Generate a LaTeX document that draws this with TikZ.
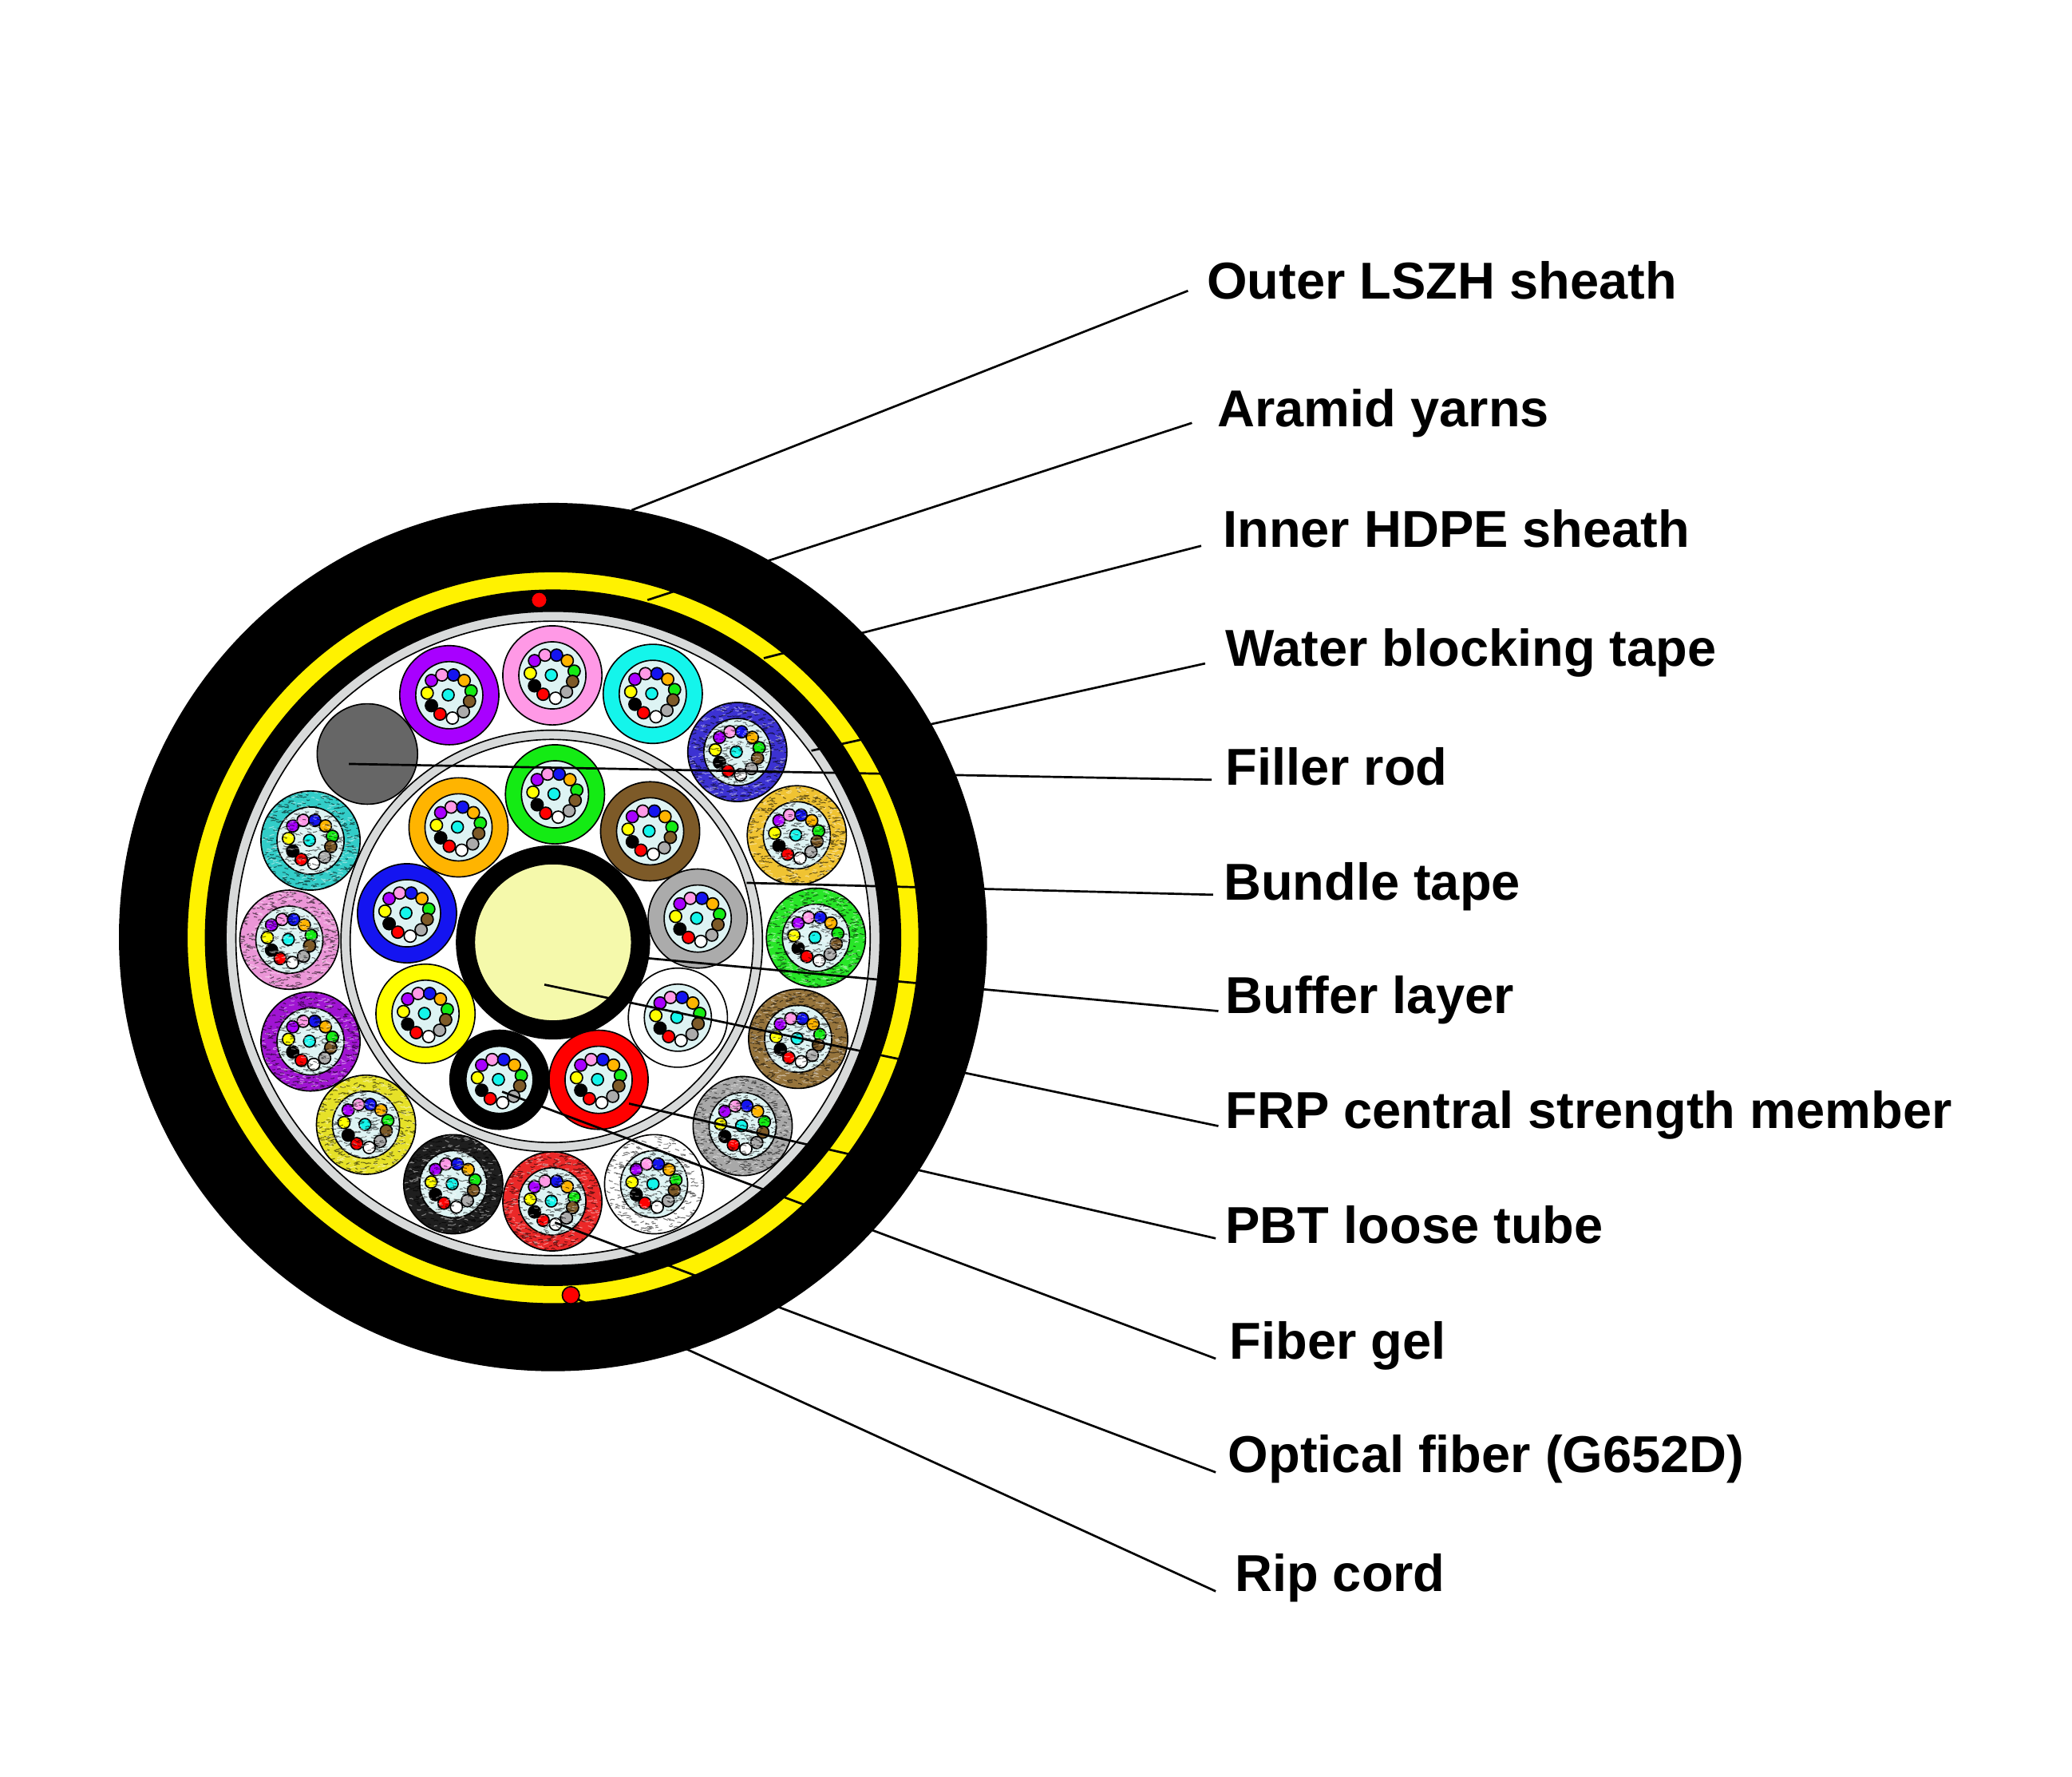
\documentclass[tikz,border=0pt]{standalone}
\usepackage{xcolor}
\usepackage{fontspec}
\setmainfont{Liberation Sans}
\usetikzlibrary{calc}

\definecolor{tubePurple}{HTML}{A800FF}
\definecolor{tubePink}{HTML}{FF99E6}
\definecolor{tubeBlue}{HTML}{1414F0}
\definecolor{tubeOrange}{HTML}{FFB400}
\definecolor{tubeGreen}{HTML}{14EB14}
\definecolor{tubeBrown}{HTML}{7D5A28}
\definecolor{tubeGray}{HTML}{ABABAB}
\definecolor{tubeRed}{HTML}{FF0000}
\definecolor{tubeCyan}{HTML}{14F5EB}
\definecolor{tubeYellow}{HTML}{FFFF00}
\definecolor{gelColor}{HTML}{DDF3F3}
\definecolor{frpColor}{HTML}{F5F9AB}
\definecolor{tapeColor}{HTML}{D8DADA}
\definecolor{fillerColor}{HTML}{666666}
\definecolor{roughBlue}{HTML}{3C32D2}
\definecolor{roughGold}{HTML}{F0C332}
\definecolor{roughGreen}{HTML}{28E628}
\definecolor{roughBrown}{HTML}{96743C}
\definecolor{roughGray}{HTML}{A8A8A8}
\definecolor{roughRed}{HTML}{EB2828}
\definecolor{roughBlack}{HTML}{1E1E1E}
\definecolor{roughYellow}{HTML}{E6E128}
\definecolor{roughPurple}{HTML}{A014D2}
\definecolor{roughPink}{HTML}{EB96D7}
\definecolor{roughTeal}{HTML}{32CDC8}

% One loose tube: gel disc, centre mark and eleven fibres
\newcommand{\fibres}{
    \begin{scope}[shift={(path picture bounding box.center)}]
        \filldraw[fill=gelColor] (0,0) circle (25.4);
        \filldraw[fill=tubeCyan] (-0.8,-0.2) circle (4.5);
        \foreach \fx/\fy/\fc in {-16.7/-1.6/tubeYellow, -13.5/7.9/black, -7/14.3/tubeRed,
            -13.5/-11.1/tubePurple, -5.6/-15.3/tubePink, 3.2/-15.3/tubeBlue, 11.3/-11.1/tubeOrange,
            16.5/-3.2/tubeGreen, 15.3/4.6/tubeBrown, 10.7/12.5/tubeGray, 2.4/17.3/white}
            \filldraw[fill=\fc] (\fx,\fy) circle (4.6);
    \end{scope}
}

% Rough surface of the outer tubes
\newcommand{\flecks}{
    \begin{scope}[shift={(path picture bounding box.center)}, line width=0.25pt, line join=round]
        \draw[black, opacity=0.55] foreach \i in {1,...,450} {(rand*38,rand*38) -- ++(0.6+rnd*1.6,rand*0.8) -- ++(0.6+rnd*1.6,rand*0.8)};
        \draw[white, opacity=0.45] foreach \i in {1,...,250} {(rand*38,rand*38) -- ++(0.6+rnd*1.6,rand*0.8) -- ++(0.6+rnd*1.6,rand*0.8)};
    \end{scope}
}

\begin{document}
\begin{tikzpicture}[x=0.4pt,y=-0.4pt]
        % Styles
        \tikzstyle{tube} = [circle,draw=black,line width=0.4pt,inner sep=0pt,outer sep=0pt,
        minimum size=30pt, path picture={\fibres}]
        \tikzstyle{roughtube} = [tube, path picture={\fibres\flecks}]
        \tikzstyle{lbl} = [anchor=base west,inner sep=0pt,font=\fontsize{15.7}{18}\selectfont\bfseries]
        \tikzstyle{leader} = [line width=0.65pt]
        \pgfmathsetseed{4711}

        \useasboundingbox (0,0) rectangle (1568,1344.5);

        % Cable layers
        \fill[black] (418.5,709) circle (328.5);
        \filldraw[fill=yellow] (418.5,709.5) circle (277);
        \fill[black] (418.5,709.5) circle (263.5);
        \filldraw[fill=tapeColor] (418.5,710) circle (247.5);
        \filldraw[fill=white] (418.5,710) circle (240);
        \filldraw[fill=tapeColor] (417.5,712) circle (159.5);
        \filldraw[fill=white] (417.5,712) circle (152.5);
        \fill[black] (418.5,713) circle (73.5);
        \filldraw[fill=frpColor] (418.5,713) circle (59.5);
        \filldraw[fill=tubeRed] (408,454) circle (6);
        \filldraw[fill=tubeRed] (432,980) circle (6.5);

        % Inner ring of tubes
        \node (tubeGreenIn)     [tube, fill=tubeGreen]   at (420,601) {};
        \node (tubeBrownIn)     [tube, fill=tubeBrown]   at (492,629) {};
        \node (tubeGrayIn)      [tube, fill=tubeGray]    at (528,695) {};
        \node (tubeWhiteIn)     [tube, fill=white]       at (513,770) {};
        \node (tubeRedIn)       [tube, fill=tubeRed]     at (453,817) {};
        \node (tubeBlackIn)     [tube, fill=black]       at (378,817) {};
        \node (tubeYellowIn)    [tube, fill=tubeYellow]  at (322,767) {};
        \node (tubeBlueIn)      [tube, fill=tubeBlue]    at (308,691) {};
        \node (tubeOrangeIn)    [tube, fill=tubeOrange]  at (347,626) {};

        % Outer ring of tubes
        \node (tubePurpleOut)   [tube, fill=tubePurple]  at (340,526) {};
        \node (tubePinkOut)     [tube, fill=tubePink]    at (418,511) {};
        \node (tubeCyanOut)     [tube, fill=tubeCyan]    at (494,525) {};
        \node (roughBlueOut)    [roughtube, fill=roughBlue]   at (558,569) {};
        \node (roughGoldOut)    [roughtube, fill=roughGold]   at (603,632) {};
        \node (roughGreenOut)   [roughtube, fill=roughGreen]  at (617.5,709.5) {};
        \node (roughBrownOut)   [roughtube, fill=roughBrown]  at (604,786) {};
        \node (roughGrayOut)    [roughtube, fill=roughGray]   at (562,852) {};
        \node (roughWhiteOut)   [roughtube, fill=white]       at (495,896) {};
        \node (roughRedOut)     [roughtube, fill=roughRed]    at (418,909) {};
        \node (roughBlackOut)   [roughtube, fill=roughBlack]  at (343,896) {};
        \node (roughYellowOut)  [roughtube, fill=roughYellow] at (277,851) {};
        \node (roughPurpleOut)  [roughtube, fill=roughPurple] at (235,788) {};
        \node (roughPinkOut)    [roughtube, fill=roughPink]   at (219,711) {};
        \node (roughTealOut)    [roughtube, fill=roughTeal]   at (235,636) {};
        \node (filler)          [circle,draw=black,inner sep=0pt,outer sep=0pt,
        minimum size=30.4pt, fill=fillerColor] at (278,570.5) {};

        % Labels
        \node (lblOuter)    [lbl] at (913,226)  {Outer LSZH sheath};
        \node (lblAramid)   [lbl] at (921,323)  {Aramid yarns};
        \node (lblInner)    [lbl] at (925,414)  {Inner HDPE sheath};
        \node (lblWater)    [lbl] at (927,504)  {Water blocking tape};
        \node (lblFiller)   [lbl] at (927,594)  {Filler rod};
        \node (lblBundle)   [lbl] at (925.5,681)  {Bundle tape};
        \node (lblBuffer)   [lbl] at (927,767)  {Buffer layer};
        \node (lblFrp)      [lbl] at (927,854)  {FRP central strength member};
        \node (lblPbt)      [lbl] at (927,941)  {PBT loose tube};
        \node (lblGel)      [lbl] at (930,1028.5) {Fiber gel};
        \node (lblFiber)    [lbl] at (929,1114) {Optical fiber (G652D)};
        \node (lblRip)      [lbl] at (934,1204) {Rip cord};

        % Inner ends of the leaders
        \coordinate (inOuter)   at (478,386);
        \coordinate (inAramid)  at (490,454);
        \coordinate (inInner)   at (578,498);
        \coordinate (inWater)   at (614,568);
        \coordinate (inFiller)  at (264,578);
        \coordinate (inBundle)  at (565,668);
        \coordinate (inBuffer)  at (490,725);
        \coordinate (inFrp)     at (412,745);
        \coordinate (inPbt)     at (476,835);
        \coordinate (inGel)     at (380,826);
        \coordinate (inFiber)   at (420,925);
        \coordinate (inRip)     at (437,983);

        % Leaders
        \draw[leader] (inOuter)  -- ($(lblOuter.base west)+(-14,-6)$);
        \draw[leader] (inAramid) -- ($(lblAramid.base west)+(-19,-3)$);
        \draw[leader] (inInner)  -- ($(lblInner.base west)+(-16,-1)$);
        \draw[leader] (inWater)  -- ($(lblWater.base west)+(-15,-2)$);
        \draw[leader] (inFiller) -- ($(lblFiller.base west)+(-10,-4)$);
        \draw[leader] (inBundle) -- ($(lblBundle.base west)+(-7.5,-4)$);
        \draw[leader] (inBuffer) -- ($(lblBuffer.base west)+(-5,-2)$);
        \draw[leader] (inFrp)    -- ($(lblFrp.base west)+(-5,-2)$);
        \draw[leader] (inPbt)    -- ($(lblPbt.base west)+(-7,-4)$);
        \draw[leader] (inGel)    -- ($(lblGel.base west)+(-10,-0.5)$);
        \draw[leader] (inFiber)  -- ($(lblFiber.base west)+(-9,0)$);
        \draw[leader] (inRip)    -- ($(lblRip.base west)+(-14,0)$);

    \end{tikzpicture}
\end{document}
